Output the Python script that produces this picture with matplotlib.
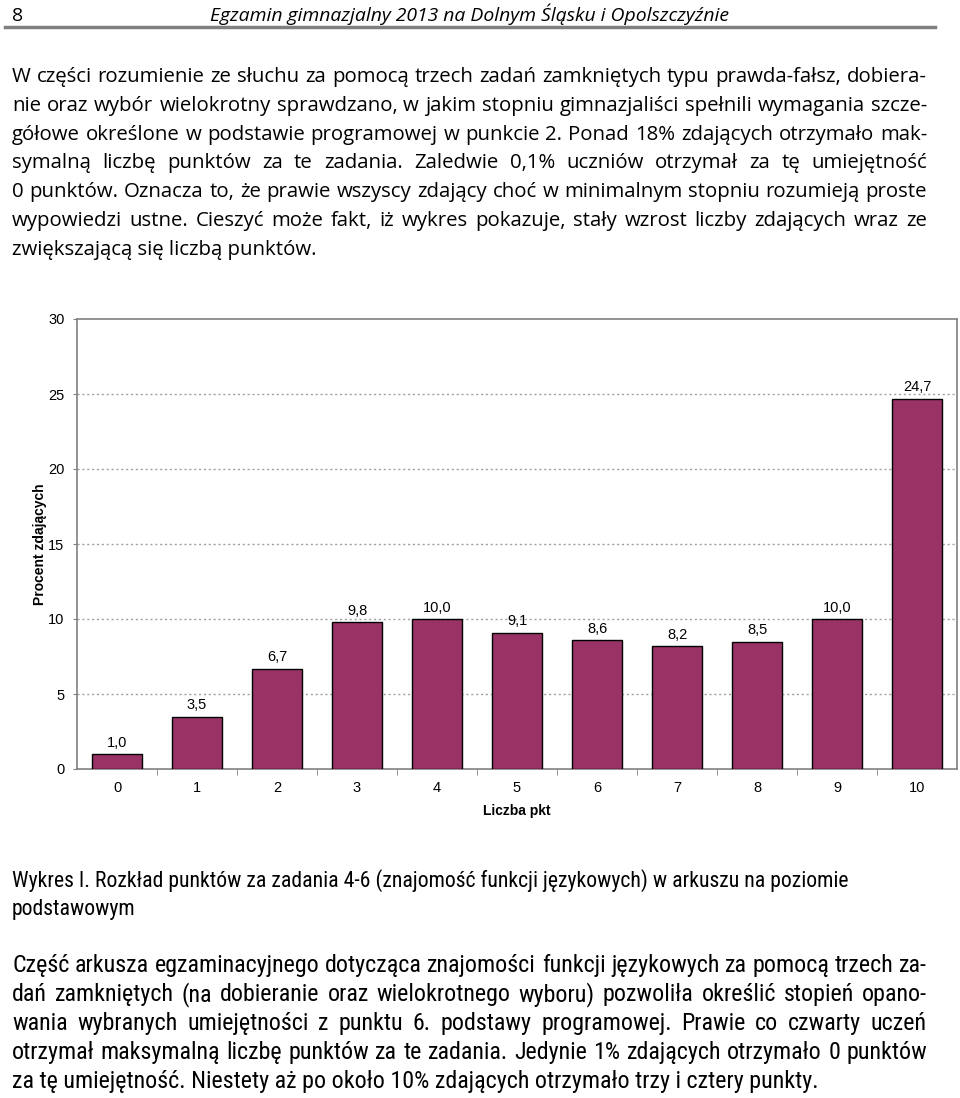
import matplotlib
matplotlib.use("Agg")
import matplotlib.pyplot as plt
from matplotlib import font_manager
from matplotlib.lines import Line2D

# ----------------------------- data
points = [0, 1, 2, 3, 4, 5, 6, 7, 8, 9, 10]
percent = [1.0, 3.5, 6.7, 9.8, 10.0, 9.1, 8.6, 8.2, 8.5, 10.0, 24.7]
y_ticks = [0, 5, 10, 15, 20, 25, 30]

header_page = "8"
header_title = "Egzamin gimnazjalny 2013 na Dolnym Śląsku i Opolszczyźnie"

para1 = [
    "W części rozumienie ze słuchu za pomocą trzech zadań zamkniętych typu prawda-fałsz, dobiera-",
    "nie oraz wybór wielokrotny sprawdzano, w jakim stopniu gimnazjaliści spełnili wymagania szcze-",
    "gółowe określone w podstawie programowej w punkcie 2. Ponad 18% zdających otrzymało mak-",
    "symalną liczbę punktów za te zadania. Zaledwie 0,1% uczniów otrzymał za tę umiejętność",
    "0 punktów. Oznacza to, że prawie wszyscy zdający choć w minimalnym stopniu rozumieją proste",
    "wypowiedzi ustne. Cieszyć może fakt, iż wykres pokazuje, stały wzrost liczby zdających wraz ze",
    "zwiększającą się liczbą punktów.",
]
caption = [
    "Wykres I. Rozkład punktów za zadania 4-6 (znajomość funkcji językowych) w arkuszu na poziomie",
    "podstawowym",
]
para2 = [
    "Część arkusza egzaminacyjnego dotycząca znajomości funkcji językowych za pomocą trzech za-",
    "dań zamkniętych (na dobieranie oraz wielokrotnego wyboru) pozwoliła określić stopień opano-",
    "wania wybranych umiejętności z punktu 6. podstawy programowej. Prawie co czwarty uczeń",
    "otrzymał maksymalną liczbę punktów za te zadania. Jedynie 1% zdających otrzymało 0 punktów",
    "za tę umiejętność. Niestety aż po około 10% zdających otrzymało trzy i cztery punkty.",
]

# ----------------------------- fonts
names = {f.name for f in font_manager.fontManager.ttflist}


def pick(*cands):
    return next((c for c in cands if c in names), "DejaVu Sans")


body_font = pick("Open Sans", "Noto Sans", "DejaVu Sans")
narrow_font = pick("Liberation Sans Narrow", "Roboto Condensed", "Open Sans")
chart_font = pick("Liberation Sans", "Arimo", "DejaVu Sans")

W, H = 960, 1098
LEFT, RIGHT = 12, 927

fig = plt.figure(figsize=(W / 100, H / 100), dpi=100)
renderer = fig.canvas.get_renderer()


def text_width(s, family, size, style="normal"):
    t = fig.text(0, 0, s, family=family, fontsize=size, style=style)
    w = t.get_window_extent(renderer).width
    t.remove()
    return w


def fit_size(lines, family, target):
    # largest size at which every line still fits the given width
    return min(10 * target / text_width(s, family, 10) for s in lines)


def put_line(text, base_px, family, size, justify, style="normal"):
    y = 1 - base_px / H
    if not justify:
        fig.text(LEFT / W, y, text, family=family, fontsize=size, style=style,
                 va="baseline", ha="left")
        return
    words = text.split(" ")
    objs = [fig.text(0, y, w, family=family, fontsize=size, style=style,
                     va="baseline", ha="left") for w in words]
    widths = [o.get_window_extent(renderer).width for o in objs]
    gap = (RIGHT - LEFT - sum(widths)) / (len(words) - 1)
    x = LEFT
    for o, w in zip(objs, widths):
        o.set_x(x / W)
        x += w + gap


# header
title_size = 10 * 519 / text_width(header_title, body_font, 10, "italic")
fig.text(LEFT / W, 1 - 21 / H, header_page, family=body_font, fontsize=title_size,
         va="baseline", ha="left")
fig.text(470 / W, 1 - 21 / H, header_title, family=body_font, fontsize=title_size,
         style="italic", va="baseline", ha="center")
fig.add_artist(Line2D([5 / W, 935 / W], [1 - 27 / H, 1 - 27 / H],
                      color="#808080", lw=2.5, transform=fig.transFigure))

# first paragraph
s1 = fit_size(para1[:-1], body_font, RIGHT - LEFT - 4)
for i, line in enumerate(para1):
    put_line(line, 82 + 28.8 * i, body_font, s1, i < len(para1) - 1)

# caption + second paragraph
sc = fit_size(caption[:1], narrow_font, 834)
for i, line in enumerate(caption):
    put_line(line, 887 + 28 * i, narrow_font, sc, False)
s2 = fit_size(para2[:-1], narrow_font, RIGHT - LEFT - 4)
for i, line in enumerate(para2):
    put_line(line, 972 + 29 * i, narrow_font, s2, i < len(para2) - 1)

# ----------------------------- chart
ax = fig.add_axes([77 / W, 1 - 769 / H, 880 / W, 450 / H])
ax.bar(points, percent, width=0.625, color="#993366",
       edgecolor="black", linewidth=1, zorder=3)
for x, v in zip(points, percent):
    ax.annotate(f"{v:.1f}".replace(".", ","), (x, v), xytext=(0, 3),
                textcoords="offset points", ha="center", va="bottom",
                fontsize=10.5, family=chart_font)

ax.set_xlim(-0.5, 10.5)
ax.set_ylim(0, 30)
ax.set_yticks(y_ticks)
ax.set_xticks(points)
ax.set_xticks([p + 0.5 for p in points[:-1]], minor=True)
ax.tick_params(axis="x", which="major", length=0, pad=9, labelsize=10.5)
ax.tick_params(axis="x", which="minor", length=4, color="#808080", direction="out")
ax.tick_params(axis="y", length=3, color="#808080", pad=6, labelsize=10.5)
for lab in ax.get_xticklabels() + ax.get_yticklabels():
    lab.set_family(chart_font)

for y in y_ticks[1:-1]:
    ax.axhline(y, color="#A0A0A0", lw=1, ls=(0, (1.5, 2)), zorder=1)
for s in ax.spines.values():
    s.set_color("#808080")
    s.set_linewidth(1.2)

ax.set_xlabel("Liczba pkt", fontsize=10, fontweight="bold", family=chart_font,
              labelpad=6)
ax.set_ylabel("Procent zdających", fontsize=10, fontweight="bold",
              family=chart_font, labelpad=0)
ax.yaxis.set_label_coords(-30 / 880, 0.5)

plt.savefig("out.png", dpi=100)
